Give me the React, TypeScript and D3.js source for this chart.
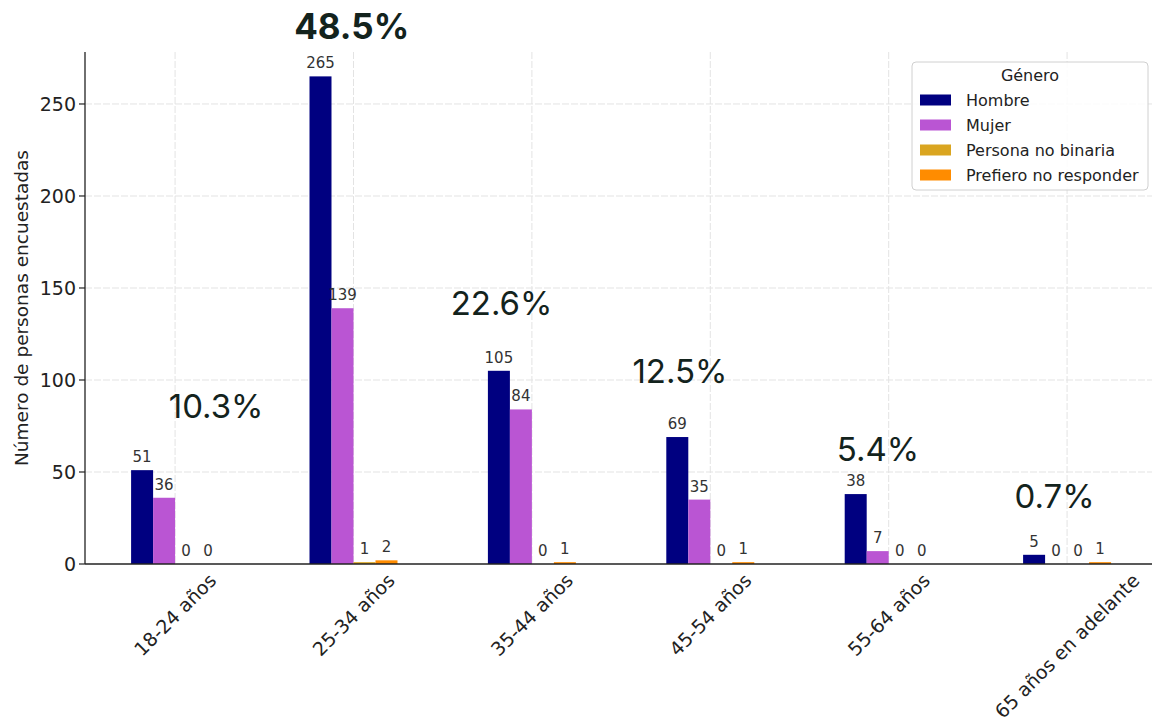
import { useEffect, useRef } from 'react';
import * as d3 from 'd3';

const categories = ['18-24 años', '25-34 años', '35-44 años', '45-54 años', '55-64 años', '65 años en adelante'];
const genders = ['Hombre', 'Mujer', 'Persona no binaria', 'Prefiero no responder'];
const hombre = [51, 265, 105, 69, 38, 5];
const mujer = [36, 139, 84, 35, 7, 0];
const noBinaria = [0, 1, 0, 0, 0, 0];
const prefiero = [0, 2, 1, 1, 0, 1];
const pctLabels = ['10.3%', '48.5%', '22.6%', '12.5%', '5.4%', '0.7%'];
const yTicks = [0, 50, 100, 150, 200, 250];

// where the percentage annotations sit (category offset, value)
const pctDx = [0.23, -0.01, -0.17, -0.17, -0.06, -0.07];
const pctY = [85.6, 292, 142, 105, 62.5, 37];

const colors = ['#000080', '#BA55D3', '#DAA520', '#FF8C00'];

export default function App() {
  const svgRef = useRef<SVGSVGElement>(null);

  useEffect(() => {
    if (!svgRef.current) return;
    const svg = d3.select(svgRef.current);
    svg.selectAll('*').remove();

    const series = [hombre, mujer, noBinaria, prefiero];
    const left = 85, bottom = 564, top = 52;
    const step = 178.4;

    const x = d3.scaleLinear().domain([-0.505, 5.5]).range([left, left + 6.005 * step]);
    const y = d3.scaleLinear().domain([0, d3.max(hombre)! * 1.05]).range([bottom, top]);
    const barW = 0.1233;
    const font = 'DejaVu Sans, sans-serif';

    // grid
    const grid = svg.append('g').attr('stroke', '#e3e3e3').attr('stroke-width', 1).attr('stroke-dasharray', '7,2');
    grid.selectAll('line.h').data(yTicks.filter(t => t > 0)).join('line')
      .attr('x1', left).attr('x2', 1152)
      .attr('y1', d => y(d)).attr('y2', d => y(d));
    grid.selectAll('line.v').data(categories).join('line')
      .attr('x1', (_, i) => x(i)).attr('x2', (_, i) => x(i))
      .attr('y1', top).attr('y2', bottom);

    // bars
    series.forEach((vals, k) => {
      const g = svg.append('g');
      g.selectAll('rect').data(vals).join('rect')
        .attr('x', (_, i) => x(i + (k - 2) * barW))
        .attr('width', x(barW) - x(0))
        .attr('y', d => y(d))
        .attr('height', d => bottom - y(d))
        .attr('fill', colors[k]);
      g.selectAll('text').data(vals).join('text')
        .attr('x', (_, i) => x(i + (k - 1.5) * barW))
        .attr('y', d => y(d) - 8)
        .attr('text-anchor', 'middle')
        .attr('font-family', font)
        .attr('font-size', 15)
        .attr('fill', '#333')
        .text(d => d);
    });

    // axes
    svg.append('line').attr('x1', left).attr('x2', left).attr('y1', top).attr('y2', bottom)
      .attr('stroke', '#222').attr('stroke-width', 1.3);
    svg.append('line').attr('x1', left).attr('x2', 1152).attr('y1', bottom).attr('y2', bottom)
      .attr('stroke', '#222').attr('stroke-width', 1.3);

    const yt = svg.append('g');
    yt.selectAll('line').data(yTicks).join('line')
      .attr('x1', left - 6).attr('x2', left)
      .attr('y1', d => y(d)).attr('y2', d => y(d))
      .attr('stroke', '#222').attr('stroke-width', 1.2);
    yt.selectAll('text').data(yTicks).join('text')
      .attr('x', left - 9).attr('y', d => y(d)).attr('dy', '0.36em')
      .attr('text-anchor', 'end')
      .attr('font-family', font).attr('font-size', 19).attr('fill', '#222')
      .text(d => d);

    svg.append('text')
      .attr('transform', `translate(28,${(top + bottom) / 2}) rotate(-90)`)
      .attr('text-anchor', 'middle')
      .attr('font-family', font).attr('font-size', 18.5).attr('fill', '#222')
      .text('Número de personas encuestadas');

    // rotated category labels, centred under each tick
    svg.append('g').selectAll('text').data(categories).join('text')
      .attr('text-anchor', 'middle')
      .attr('dy', '0.36em')
      .attr('font-family', font).attr('font-size', 19).attr('fill', '#222')
      .text(d => d)
      .each(function (_, i) {
        const L = (this as SVGTextElement).getComputedTextLength();
        const cy = 571 + 0.7071 * (L + 17) / 2;
        d3.select(this).attr('transform', `translate(${x(i)},${cy}) rotate(-45)`);
      });

    // legend
    const lg = svg.append('g').attr('transform', 'translate(912,62)');
    lg.append('rect').attr('width', 236).attr('height', 128).attr('rx', 4)
      .attr('fill', 'white').attr('fill-opacity', 0.85).attr('stroke', '#d0d0d0');
    lg.append('text').attr('x', 118).attr('y', 19).attr('text-anchor', 'middle')
      .attr('font-family', font).attr('font-size', 16).attr('fill', '#222').text('Género');
    genders.forEach((gname, k) => {
      const cy = 38 + k * 25;
      lg.append('rect').attr('x', 8).attr('y', cy - 5.5).attr('width', 31).attr('height', 11).attr('fill', colors[k]);
      lg.append('text').attr('x', 54).attr('y', cy).attr('dy', '0.36em')
        .attr('font-family', font).attr('font-size', 16).attr('fill', '#222').text(gname);
    });

    // percentage annotations
    svg.append('g').selectAll('text').data(pctLabels).join('text')
      .attr('x', (_, i) => x(i + pctDx[i]))
      .attr('y', (_, i) => y(pctY[i]))
      .attr('dy', '0.36em')
      .attr('text-anchor', 'middle')
      .attr('font-family', 'Inter, Lato, sans-serif')
      .attr('font-size', (_, i) => (i === 1 ? 35 : 33))
      .attr('font-weight', (_, i) => (i === 1 ? 700 : 400))
      .attr('fill', '#13231d')
      .text(d => d);
  }, []);

  return (
    <svg
      ref={svgRef}
      width={1152}
      height={721}
      style={{ position: 'absolute', left: 0, top: 0, background: 'white' }}
    />
  );
}
